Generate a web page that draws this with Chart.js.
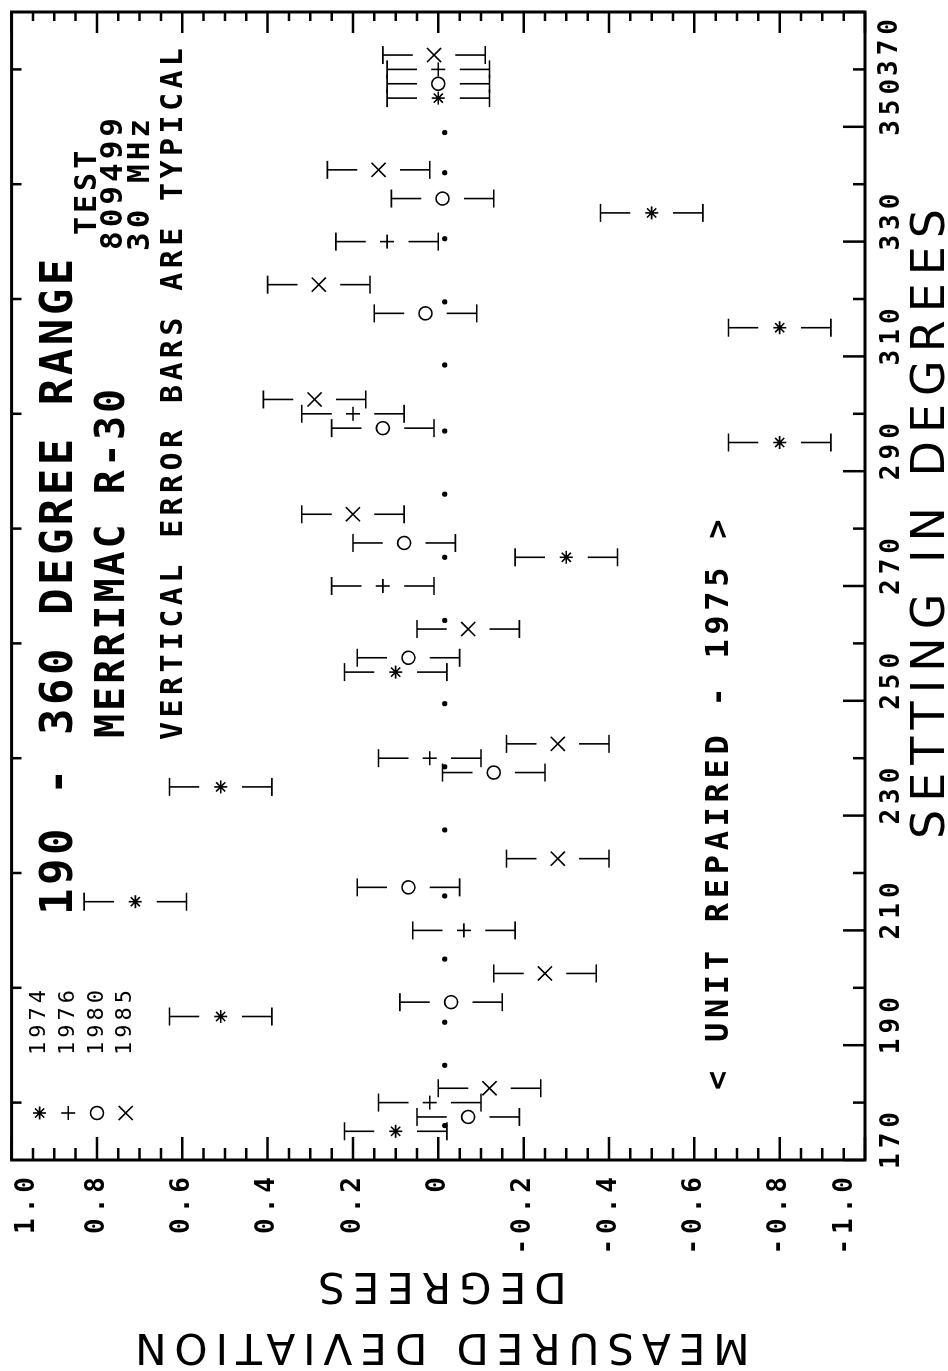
<!DOCTYPE html>
<html>
<head>
<meta charset="utf-8">
<script src="https://cdn.jsdelivr.net/npm/chart.js@4/dist/chart.umd.min.js"></script>
<style>
  html, body { margin: 0; padding: 0; background: #fff; overflow: hidden; }
  /* the plot is laid out landscape and turned a quarter turn onto the portrait page */
  #sheet {
    position: absolute; left: 0; top: 0;
    width: 1371px; height: 948px;
    transform-origin: 0 0;
    transform: translate(0, 1371px) rotate(-90deg);
  }
  canvas { display: block; }
</style>
</head>
<body>
<div id="sheet"><canvas id="chart" width="1371" height="948"></canvas></div>
<script>
// ---- measurements: deviation (degrees) at each dial setting ----
const settingsEvery20 = [180, 200, 220, 240, 260, 280, 300, 320, 340, 360];
const settingsEvery30 = [180, 210, 240, 270, 300, 330, 360];

const deviation1974 = [0.10, 0.51, 0.71, 0.51, 0.10, -0.30, -0.80, -0.80, -0.50, 0.00];
const deviation1976 = [0.02, -0.06, 0.02, 0.13, 0.20, 0.12, 0.00];
const deviation1980 = [-0.07, -0.03, 0.07, -0.13, 0.07, 0.08, 0.13, 0.03, -0.01, 0.00];
const deviation1985 = [-0.12, -0.25, -0.28, -0.28, -0.07, 0.20, 0.29, 0.28, 0.14, 0.01];

// small reference dots along the zero line
const referenceSettings = [176, 186.5, 194, 205, 216, 227.5, 238.5, 249.5, 264, 275, 286, 297, 308.5, 319.5, 330.5, 342, 349];
const referenceDeviation = [-0.015, -0.015, -0.015, -0.015, -0.015, -0.015, -0.015, -0.015, -0.015,
                            -0.015, -0.015, -0.015, -0.015, -0.015, -0.015, -0.015, -0.015];

// typical measurement uncertainty (half-length of each error bar)
const typicalError = 0.12;

const yearLabels = ['1974', '1976', '1980', '1985'];
const settingTickValues = [170, 190, 210, 230, 250, 270, 290, 310, 330, 350, 370];
const deviationTickValues = [1.0, 0.8, 0.6, 0.4, 0.2, 0, -0.2, -0.4, -0.6, -0.8, -1.0];

function formatDeviation(v) {
  const r = Math.round(v * 10) / 10;
  return r === 0 ? '0' : r.toFixed(1);
}

// each year is nudged sideways a little so the symbols of one setting do not overlap
function series(label, settings, values, pointStyle, radius, dodge) {
  return {
    label,
    data: settings.map((s, i) => ({ x: s + dodge, y: values[i] })),
    pointStyle,
    pointRadius: radius,
    pointHoverRadius: radius,
    borderColor: '#000',
    backgroundColor: 'rgba(0,0,0,0)',
    pointBorderWidth: 1.6,
    showLine: false,
    errorHalf: typicalError,
    inLegend: true
  };
}

const datasets = [
  series(yearLabels[0], settingsEvery20, deviation1974, 'star', 6.5, -5),
  series(yearLabels[1], settingsEvery30, deviation1976, 'cross', 7, 0),
  series(yearLabels[2], settingsEvery20, deviation1980, 'circle', 6.5, -2.5),
  series(yearLabels[3], settingsEvery20, deviation1985, 'crossRot', 10, 2.5),
  {
    label: 'reference',
    data: referenceSettings.map((s, i) => ({ x: s, y: referenceDeviation[i] })),
    pointStyle: 'circle',
    pointRadius: 2.6,
    pointHoverRadius: 2.6,
    borderWidth: 0,
    backgroundColor: '#000',
    borderColor: '#000',
    showLine: false
  }
];

const MONO = '"DejaVu Sans Mono", "Liberation Mono", monospace';
const SANS = '"DejaVu Sans", sans-serif';
const tickFont = { family: MONO, size: 26, weight: 'bold' };

// spacing for the plotter-style lettering: wider for the axis title, tighter for tick labels
const lettering = {
  id: 'lettering',
  beforeDraw(chart) { chart.ctx.letterSpacing = '8px'; },
  beforeDatasetsDraw(chart) { chart.ctx.letterSpacing = '5px'; }
};

// "|—  —|" style error bars around every marker
const errorBars = {
  id: 'errorBars',
  afterDatasetsDraw(chart) {
    const { ctx, scales: { x, y } } = chart;
    ctx.save();
    ctx.strokeStyle = '#000';
    ctx.lineWidth = 1.6;
    chart.data.datasets.forEach(ds => {
      if (!ds.errorHalf) return;
      ds.data.forEach(p => {
        const px = x.getPixelForValue(p.x);
        const hi = y.getPixelForValue(p.y + ds.errorHalf);
        const lo = y.getPixelForValue(p.y - ds.errorHalf);
        const hiIn = y.getPixelForValue(p.y + 0.05);
        const loIn = y.getPixelForValue(p.y - 0.05);
        ctx.beginPath();
        ctx.moveTo(px - 9, hi); ctx.lineTo(px + 9, hi);
        ctx.moveTo(px - 9, lo); ctx.lineTo(px + 9, lo);
        ctx.moveTo(px, hi); ctx.lineTo(px, hiIn);
        ctx.moveTo(px, lo); ctx.lineTo(px, loIn);
        ctx.stroke();
      });
    });
    ctx.restore();
  }
};

// frame with inward tick marks on all four sides, plus the end labels kept inside the sheet
const frame = {
  id: 'frame',
  afterDraw(chart) {
    const { ctx, chartArea: a, scales: { x, y } } = chart;
    ctx.save();
    ctx.strokeStyle = '#000';
    ctx.lineWidth = 2.5;
    ctx.beginPath();
    for (let k = -20; k <= 20; k++) {
      const py = y.getPixelForValue(k * 0.05);
      const major = k % 4 === 0;
      ctx.moveTo(a.left, py); ctx.lineTo(a.left + (major ? 23 : 12), py);
      ctx.moveTo(a.right, py); ctx.lineTo(a.right - (major ? 21 : 9), py);
    }
    for (let s = 170; s <= 370; s += 10) {
      const px = x.getPixelForValue(s);
      const major = (s - 170) % 20 === 0;
      ctx.moveTo(px, a.bottom); ctx.lineTo(px, a.bottom - (major ? 22 : 12));
      if (!major) { ctx.moveTo(px, a.top); ctx.lineTo(px, a.top + 10); }
    }
    ctx.stroke();
    ctx.lineWidth = 3;
    ctx.strokeRect(a.left, a.top, a.width, a.height);

    ctx.fillStyle = '#000';
    ctx.font = 'bold 26px ' + MONO;
    ctx.letterSpacing = '5px';
    ctx.textBaseline = 'middle';
    ctx.textAlign = 'right';
    const first = deviationTickValues[0], last = deviationTickValues[deviationTickValues.length - 1];
    ctx.fillText(formatDeviation(first), y.right - 12, y.getPixelForValue(first) + 16);
    ctx.fillText(formatDeviation(last), y.right - 12, y.getPixelForValue(last) - 20);
    const end = settingTickValues[settingTickValues.length - 1];
    ctx.textBaseline = 'top';
    ctx.fillText(String(end), x.getPixelForValue(end) - 2, x.top + 12);

    // horizontal axis title, set a little toward the high settings
    ctx.font = '46px ' + SANS;
    ctx.letterSpacing = '8px';
    ctx.textAlign = 'center';
    ctx.textBaseline = 'alphabetic';
    ctx.fillText('SETTING IN DEGREES', a.left + 640, x.bottom - 4);
    ctx.restore();
  }
};

// legend block and the notes written across the plot
const notes = [
  { text: '190 - 360 DEGREE RANGE', x: 456, y: 72, size: 44, spacing: 3.5 },
  { text: 'MERRIMAC R-30', x: 633, y: 124, size: 40, spacing: 3 },
  { text: 'TEST', x: 1136, y: 96, size: 30, spacing: 4 },
  { text: '809499', x: 1121, y: 122, size: 31, spacing: 4 },
  { text: '30 MHz', x: 1120, y: 149, size: 31, spacing: 4 },
  { text: 'VERTICAL ERROR BARS ARE TYPICAL', x: 631, y: 182, size: 30, spacing: 4.4 },
  { text: '< UNIT REPAIRED - 1975 >', x: 281, y: 728, size: 32, spacing: 4.7 }
];

const annotations = {
  id: 'annotations',
  afterDraw(chart) {
    const { ctx, chartArea: a } = chart;
    ctx.save();
    ctx.fillStyle = '#000';
    ctx.textAlign = 'left';
    ctx.textBaseline = 'alphabetic';
    notes.forEach(n => {
      ctx.font = 'bold ' + n.size + 'px ' + MONO;
      ctx.letterSpacing = n.spacing + 'px';
      ctx.fillText(n.text, n.x, n.y);
    });

    // legend: symbol then year
    let row = 0;
    chart.data.datasets.forEach(ds => {
      if (!ds.inLegend) return;
      const yy = a.top + 28 + row * 28.7;
      ctx.strokeStyle = '#000';
      ctx.fillStyle = 'rgba(0,0,0,0)';
      ctx.lineWidth = 1.6;
      Chart.helpers.drawPoint(ctx, {
        pointStyle: ds.pointStyle, radius: ds.pointRadius, rotation: 0, borderWidth: 1.6
      }, a.left + 47, yy);
      ctx.fillStyle = '#000';
      ctx.font = '22px ' + MONO;
      ctx.letterSpacing = '4px';
      ctx.textBaseline = 'middle';
      ctx.fillText(ds.label, a.left + 105, yy);
      row++;
    });
    ctx.restore();
  }
};

new Chart(document.getElementById('chart'), {
  type: 'scatter',
  data: { datasets },
  options: {
    responsive: false,
    animation: false,
    devicePixelRatio: 1,
    layout: { padding: { left: 0, right: 12, top: 9, bottom: 0 } },
    plugins: { legend: { display: false }, tooltip: { enabled: false } },
    scales: {
      x: {
        type: 'linear',
        position: 'bottom',
        min: settingTickValues[0],
        max: settingTickValues[settingTickValues.length - 1],
        afterFit(s) { s.height = 83; s.paddingLeft = 0; s.paddingRight = 0; },
        grid: { display: false, drawTicks: false },
        border: { display: false },
        ticks: {
          z: 1,
          stepSize: 20,
          autoSkip: false,
          maxRotation: 0,
          minRotation: 0,
          padding: 12,
          labelOffset: 22,
          color: '#000',
          font: tickFont,
          callback: (v, i, t) => (i === t.length - 1 ? '' : String(v))
        },
        title: { display: false }
      },
      y: {
        type: 'linear',
        position: 'left',
        min: -1,
        max: 1,
        afterFit(s) { s.width = 211; s.paddingTop = 0; s.paddingBottom = 0; },
        grid: { display: false, drawTicks: false },
        border: { display: false },
        ticks: {
          z: 1,
          stepSize: 0.2,
          autoSkip: false,
          padding: 12,
          color: '#000',
          font: tickFont,
          callback: v => (Math.abs(Math.abs(v) - 1) < 1e-9 ? '' : formatDeviation(v))
        },
        title: {
          display: true,
          text: ['MEASURED DEVIATION', 'DEGREES'],
          color: '#000',
          font: { family: SANS, size: 42, lineHeight: 1.45 },
          padding: { top: -4, bottom: 0 }
        }
      }
    }
  },
  plugins: [lettering, errorBars, frame, annotations]
});
</script>
</body>
</html>
